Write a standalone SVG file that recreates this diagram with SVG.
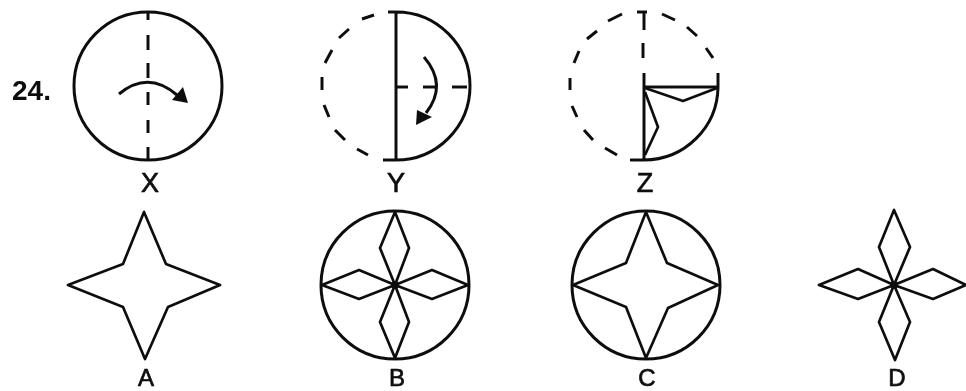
<svg xmlns="http://www.w3.org/2000/svg" width="966" height="391" viewBox="0 0 966 391">
<defs><filter id="scan" filterUnits="userSpaceOnUse" x="0" y="0" width="966" height="391"><feGaussianBlur stdDeviation="0.55"/></filter></defs>
<style>
.l{fill:none;stroke:#111;stroke-width:3}
.t{fill:none;stroke:#111;stroke-width:2.7;stroke-linejoin:round}
.a{fill:#111}
.k{font-family:"Liberation Sans",Arial,sans-serif;font-size:27px;fill:#111;stroke:#111;stroke-width:.7;text-anchor:middle}
.b{font-size:24px}
</style>
<rect width="966" height="391" fill="#fff"/>
<g filter="url(#scan)">
<text x="12" y="100" font-family="Liberation Sans,Arial,sans-serif" font-size="28" font-weight="700" fill="#111">24.</text>
<g id="node-x">
<circle class="l" cx="148" cy="86" r="74"/>
<path class="l" d="M148 12V20M148 35V50M148 63V78M148 92V105M148 120V133M148 147V160"/>
<path class="l" d="M119 94Q148 70 177 95"/>
<path class="a" d="M172 100L183 87L188 103Z"/>
<text class="k" x="150" y="192">X</text>
</g>
<g id="node-y">
<path class="l" d="M388 12H396A74 74 0 0 1 396 160H383M396 12V160"/>
<path class="l" d="M362 19L374 15M339 38L349 29M325 63L332 50M322 77V90M324 105L329 117M335 130L345 140M357 149L368 155"/>
<path class="l" d="M396 87H408M423 87H437M452 87H467"/>
<path class="l" d="M424 57Q448 85 426 113"/>
<path class="a" d="M416 125L417 110L432 117Z"/>
<text class="k" x="396" y="192">Y</text>
</g>
<g id="node-z">
<path class="l" d="M630 160H644A74 74 0 0 0 718 87V73M644 73V160M644 87H718"/>
<path class="l" d="M637 12H647M644 12V30M643 43V58"/>
<path class="l" d="M608 21L622 14M587 39L597 31M574 63L579 51M570 78V90M572 106L577 117M584 130L593 140M605 148L617 155M662 14L675 20M687 27L697 36M706 48L713 58"/>
<path class="t" d="M645 88L683 101L717 88M645 92L658 127L645 155"/>
<text class="k" x="645" y="192">Z</text>
</g>
<g id="node-a">
<path class="t" d="M144 212L123 264L68 285L123 307L145 359L168 307L220 285L166 264Z"/>
<text class="k b" x="146" y="386">A</text>
</g>
<g id="node-b">
<circle class="l" cx="395" cy="285" r="74"/>
<path class="t" d="M395 212L380 248L395 285L409 248ZM395 285L380 322L395 358L409 322ZM322 285L359 270L395 285L432 270L468 285L432 299L395 285L359 299Z"/>
<circle class="a" cx="395" cy="285" r="4"/>
<text class="k b" x="397" y="386">B</text>
</g>
<g id="node-c">
<circle class="l" cx="646" cy="285" r="74"/>
<path class="t" d="M646 212L626 263L573 285L626 307L646 358L668 308L718 285L667 263Z"/>
<text class="k b" x="647" y="386">C</text>
</g>
<g id="node-d">
<path class="t" d="M894 210L879 247L894 285L910 247ZM894 285L879 322L895 360L910 322ZM819 285L858 269L894 285L933 269L966 285L933 299L894 285L858 299Z"/>
<circle class="a" cx="894" cy="285" r="4"/>
<text class="k b" x="897" y="386">D</text>
</g>
</g>
</svg>
